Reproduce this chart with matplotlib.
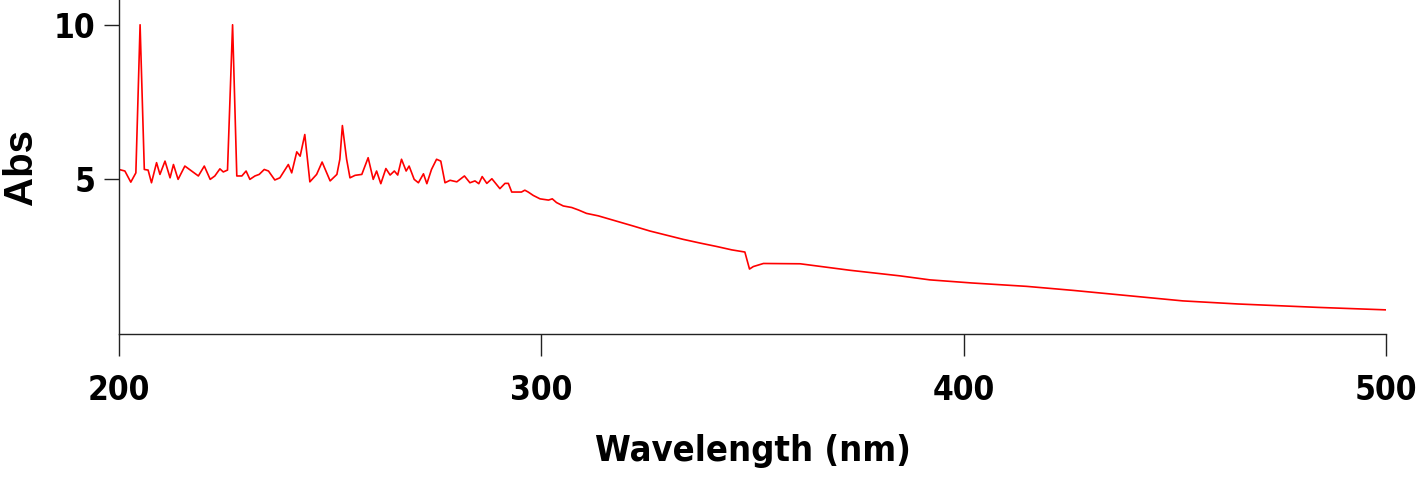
import matplotlib
matplotlib.use("Agg")
import matplotlib.pyplot as plt
from matplotlib import font_manager

# wavelength (nm) and absorbance
wavelength = [
    200.0, 201.4, 202.8, 204.0, 205.0, 206.0, 206.9, 207.7, 208.9, 209.7,
    210.9, 212.1, 212.9, 214.0, 215.6, 217.2, 218.8, 220.2, 221.6, 222.7,
    223.9, 224.7, 225.7, 226.9, 227.9, 229.1, 230.1, 231.0, 232.2, 233.2,
    234.4, 235.4, 236.9, 238.1, 240.1, 240.9, 242.1, 242.9, 244.0, 245.2,
    246.8, 248.1, 250.0, 251.6, 252.3, 252.9, 253.9, 254.7, 255.9, 257.5,
    259.0, 260.2, 261.0, 262.0, 263.2, 264.2, 265.2, 266.0, 266.9, 268.0,
    268.7, 269.9, 270.9, 272.1, 272.9, 274.0, 275.2, 276.2, 277.2, 278.4,
    280.0, 281.8, 283.1, 284.3, 285.2, 286.0, 287.1, 288.3, 290.2, 291.4,
    292.2, 293.0, 295.3, 296.1, 296.9, 298.1, 299.7, 301.7, 302.6, 303.6,
    305.2, 307.2, 308.8, 310.7, 313.5, 321.8, 325.7, 333.6, 337.6, 341.5,
    345.1, 348.2, 349.3, 350.2, 352.6, 361.3, 373.1, 384.9, 392.0, 401.9,
    414.9, 425.9, 438.9, 451.9, 465.0, 483.9, 500.0,
]
absorbance = [
    5.32, 5.27, 4.91, 5.21, 10.0, 5.32, 5.30, 4.89, 5.54, 5.16,
    5.59, 5.05, 5.48, 5.00, 5.43, 5.27, 5.11, 5.43, 5.00, 5.11,
    5.34, 5.24, 5.30, 10.0, 5.11, 5.11, 5.27, 5.00, 5.11, 5.16,
    5.32, 5.27, 4.98, 5.05, 5.48, 5.21, 5.89, 5.75, 6.45, 4.92,
    5.16, 5.56, 4.95, 5.16, 5.65, 6.74, 5.65, 5.05, 5.13, 5.16,
    5.70, 5.00, 5.27, 4.86, 5.35, 5.14, 5.27, 5.14, 5.65, 5.27,
    5.43, 5.00, 4.89, 5.18, 4.86, 5.32, 5.65, 5.59, 4.89, 4.97,
    4.92, 5.11, 4.89, 4.95, 4.86, 5.09, 4.87, 5.02, 4.70, 4.87,
    4.87, 4.59, 4.59, 4.65, 4.59, 4.48, 4.37, 4.33, 4.37, 4.25,
    4.14, 4.09, 4.01, 3.90, 3.82, 3.49, 3.33, 3.06, 2.94, 2.83,
    2.72, 2.65, 2.10, 2.18, 2.28, 2.27, 2.06, 1.88, 1.75, 1.65,
    1.54, 1.41, 1.24, 1.07, 0.97, 0.86, 0.78,
]
x_ticks = [200, 300, 400, 500]
y_ticks = [5, 10]

# look for a condensed bold face; otherwise use a smaller regular bold
narrow_file = None
for f in font_manager.fontManager.ttflist:
    is_narrow = (f.stretch in ("condensed", "semi-condensed", "extra-condensed")
                 or "Narrow" in f.name or "Condensed" in f.name)
    bold = f.weight in ("bold", 700, 600, "semibold", "demibold") or \
        (isinstance(f.weight, int) and f.weight >= 600)
    if is_narrow and bold and f.fname.lower().endswith((".ttf", ".otf")):
        narrow_file = f.fname
        break

if narrow_file:
    tick_font = font_manager.FontProperties(fname=narrow_file, size=24)
    label_font = font_manager.FontProperties(fname=narrow_file, size=26)
else:
    tick_font = font_manager.FontProperties(family="Liberation Sans", weight="bold", size=24)
    label_font = font_manager.FontProperties(family="Liberation Sans", weight="bold", size=23)

fig = plt.figure(figsize=(14.18, 4.97), dpi=100)
ax = fig.add_axes([0.0839, 0.328, 0.8935, 0.672])

ax.plot(wavelength, absorbance, color="#ff0000", linewidth=1.2)

ax.set_xlim(200, 500)
ax.set_ylim(0, 10.8)
ax.set_xticks(x_ticks)
ax.set_yticks(y_ticks)

for side in ["top", "right"]:
    ax.spines[side].set_visible(False)
for side in ["left", "bottom"]:
    ax.spines[side].set_linewidth(1.0)
    ax.spines[side].set_color("#222222")

ax.tick_params(axis="x", direction="out", length=16, width=1.0, pad=13, color="#222222")
ax.tick_params(axis="y", direction="out", length=11, width=1.0, pad=6, color="#222222")
for lab in ax.get_xticklabels() + ax.get_yticklabels():
    lab.set_fontproperties(tick_font)

ax.set_xlabel("Wavelength (nm)", fontproperties=label_font)
ax.xaxis.set_label_coords(0.5, -0.30)
ax.set_ylabel("Abs", fontfamily="Liberation Sans", fontweight="bold", fontsize=29)
ax.yaxis.set_label_coords(-0.0623, 0.5)

fig.savefig("out.png", dpi=100)
